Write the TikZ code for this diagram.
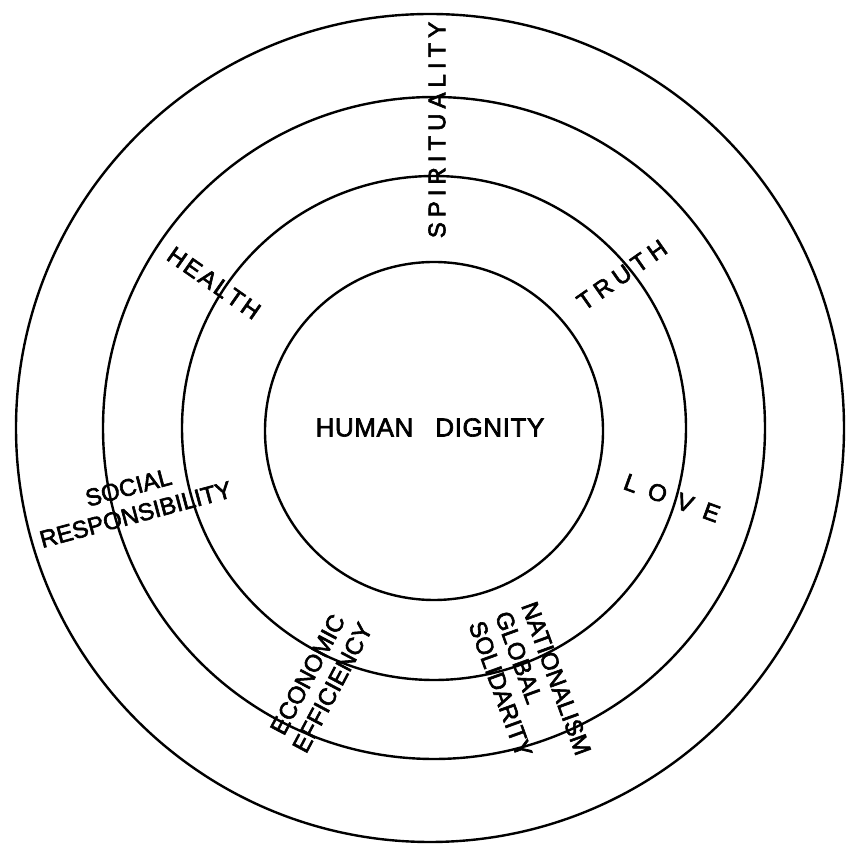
\documentclass[tikz,border=0pt]{standalone}
\usepackage{fontspec}
\setmainfont{Liberation Sans}
\newfontfamily\letterfont{Liberation Sans}[FakeBold=2.5]
\makeatletter
\newcommand\spreadtext[2]{\begingroup\def\sp@k{#1}\let\sp@sep\relax\@tfor\sp@c:=#2\do{\sp@sep\sp@c\def\sp@sep{\kern\sp@k}}\endgroup}
\makeatother
\begin{document}
\begin{tikzpicture}[x=1pt,y=1pt,
  ring/.style={draw=black, line width=2.4pt},
  lbl/.style={font=\letterfont\fontsize{24}{28}\selectfont, inner sep=0pt}]
\useasboundingbox (0,0) rectangle (847,846);
\fill[white] (0,0) rectangle (847,846);
% rings
\draw[ring] (434,415) circle[radius=169];
\draw[ring] (434,418) circle[radius=252];
\draw[ring] (434,418) circle[radius=331];
\draw[ring] (430,418) circle[radius=414];
% labels
\node[lbl, font=\letterfont\fontsize{26}{28}\selectfont] (human) at (430,418.5) {\spreadtext{0.6pt}{HUMAN}\hspace{22pt}\spreadtext{0.6pt}{DIGNITY}};
\node[lbl, rotate=90] (spirit) at (437,716) {\spreadtext{5pt}{SPIRITUALITY}};
\node[lbl, rotate=-35] (health) at (214,563) {\spreadtext{2.5pt}{HEALTH}};
\node[lbl, rotate=35] (truth) at (622,571) {\spreadtext{5.5pt}{TRUTH}};
\node[lbl, rotate=-20] (love) at (672,348) {\spreadtext{12pt}{LOVE}};
\node[lbl, rotate=15, align=center] (social) at (132,345) {SOCIAL\\RESPONSIBILITY};
\node[lbl, rotate=62, align=center] (econ) at (320,165) {ECONOMIC\\EFFICIENCY};
\node[lbl, rotate=-70, align=left] (nation) at (530,158) {NATIONALISM\\GLOBAL\\SOLIDARITY};
\end{tikzpicture}
\end{document}
